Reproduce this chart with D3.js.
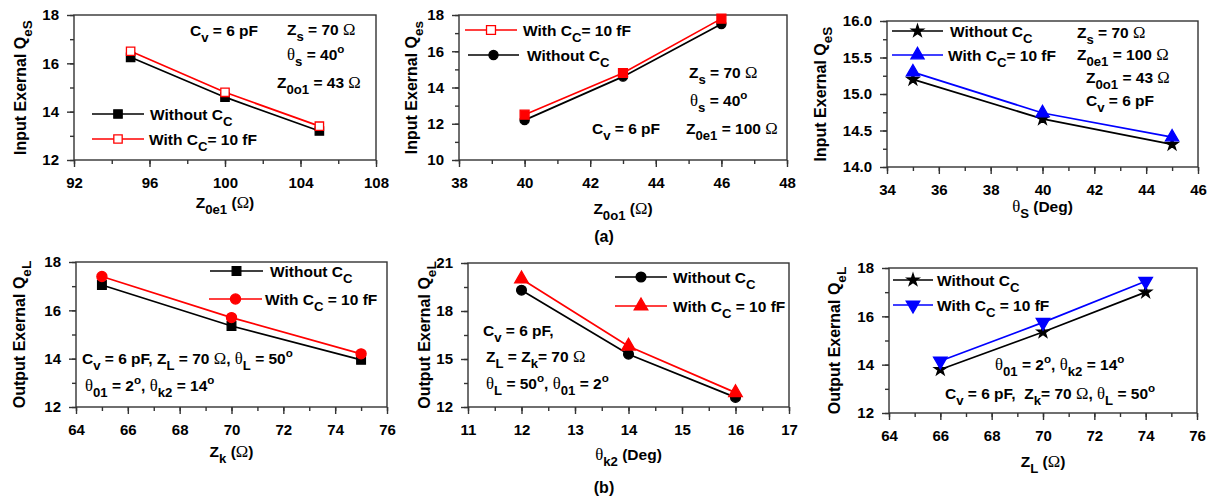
<!DOCTYPE html>
<html>
<head>
<meta charset="utf-8">
<script src="https://cdn.jsdelivr.net/npm/d3@7"></script>
<style>
  body { margin: 0; background: #fff; }
  svg text { font-family: "Liberation Sans", Arial, sans-serif; font-weight: bold; white-space: pre; }
</style>
</head>
<body>
<div id="chart"></div>
<script>
// ---- data ----
const zoe1 = [95, 100, 105];
const qesZoe1Without = [16.25, 14.6, 13.2];
const qesZoe1With = [16.5, 14.8, 13.4];

const zoo1 = [40, 43, 46];
const qesZoo1Without = [12.2, 14.6, 17.5];
const qesZoo1With = [12.5, 14.8, 17.8];

const thetaS = [35, 40, 45];
const qesThetaWithout = [15.2, 14.66, 14.31];
const qesThetaWith = [15.3, 14.74, 14.41];

const zk = [65, 70, 75];
const qelZkWithout = [17.05, 15.35, 13.95];
const qelZkWith = [17.4, 15.7, 14.2];

const thetaK2 = [12, 14, 16];
const qelThetaWithout = [19.3, 15.3, 12.6];
const qelThetaWith = [20.0, 15.8, 12.9];

const zl = [66, 70, 74];
const qelZlWithout = [13.8, 15.35, 17.0];
const qelZlWith = [14.15, 15.75, 17.45];

const W = 1214, H = 502;
const FS = 15;     // tick labels
const TS = 15.5;   // legend / notes / axis titles

const svg = d3.select("#chart").append("svg")
    .attr("width", W).attr("height", H)
    .attr("viewBox", [0, 0, W, H]);

// tiny markup: _{sub}, ^{sup}, θ/Ω drawn in a thin serif like the original
function rich(text, str, size) {
    const re = /_\{([^}]*)\}|\^\{([^}]*)\}|([θΩ])|([^_^θΩ]+)/g;
    let m, cur = 0;
    while ((m = re.exec(str))) {
        let t, shift = 0, fs = size, fw = "bold", ff = null;
        if (m[1] !== undefined) { t = m[1]; shift = size * 0.36; fs = size * 0.85; }
        else if (m[2] !== undefined) { t = m[2]; shift = -size * 0.42; fs = size * 0.75; }
        else if (m[3] !== undefined) { t = m[3]; fw = "normal"; ff = "'Liberation Serif', 'DejaVu Serif', serif"; fs = size * 1.08; }
        else t = m[4];
        const ts = text.append("tspan")
            .attr("dy", shift - cur)
            .style("font-size", fs + "px")
            .style("font-weight", fw)
            .text(t);
        if (ff) ts.style("font-family", ff);
        cur = shift;
    }
    return text;
}

const symbols = {
    square: d3.symbolSquare, circle: d3.symbolCircle,
    triangle: d3.symbolTriangle, down: d3.symbolTriangle, star: d3.symbolStar
};

const panels = [
    {
        x0: 74, x1: 376, y0: 15, y1: 160,
        xDomain: [92, 108], xMajor: 4, xMinor: 2,
        yDomain: [12, 18], yMajor: 2, yMinor: 1, yFmt: "d",
        xs: zoe1,
        series: [
            { vals: qesZoe1Without, color: "#000", sym: "square", size: 70, fill: "#000", legFill: "#000", label: "Without C_{C}" },
            { vals: qesZoe1With, color: "#ff0000", sym: "square", size: 70, fill: "#fff", legFill: "#fff", label: "With C_{C}= 10 fF" }
        ],
        legend: [{ s: 0, lx: 92, rx: 144, y: 114, tx: 150 }, { s: 1, lx: 92, rx: 144, y: 139, tx: 149 }],
        notes: [
            { x: 190, y: 36, t: "C_{v} = 6 pF" },
            { x: 287, y: 35, t: "Z_{s} = 70 Ω" },
            { x: 287, y: 60, t: "θ_{s} = 40^{o}" },
            { x: 277, y: 88, t: "Z_{0o1} = 43 Ω" }
        ],
        xTitle: "Z_{0e1} (Ω)", xTitleDy: 48,
        yTitle: "Input Exernal Q_{eS}", yTitleDx: -48
    },
    {
        x0: 459, x1: 787, y0: 15, y1: 160,
        xDomain: [38, 48], xMajor: 2, xMinor: 1,
        yDomain: [10, 18], yMajor: 2, yMinor: 1, yFmt: "d",
        xs: zoo1,
        series: [
            { vals: qesZoo1Without, color: "#000", sym: "circle", size: 65, fill: "#000", legFill: "#000", label: "Without C_{C}" },
            { vals: qesZoo1With, color: "#ff0000", sym: "square", size: 80, fill: "#ff0000", legFill: "#fff", label: "With C_{C}= 10 fF" }
        ],
        legend: [{ s: 1, lx: 465, rx: 517, y: 30, tx: 523 }, { s: 0, lx: 468, rx: 519, y: 55, tx: 527 }],
        notes: [
            { x: 689, y: 78, t: "Z_{s} = 70 Ω" },
            { x: 690, y: 106, t: "θ_{s} = 40^{o}" },
            { x: 592, y: 134, t: "C_{v} = 6 pF" },
            { x: 686, y: 134, t: "Z_{0e1} = 100 Ω" }
        ],
        xTitle: "Z_{0o1} (Ω)", xTitleDy: 54,
        yTitle: "Input Exernal Q_{es}", yTitleDx: -42
    },
    {
        x0: 887, x1: 1198, y0: 21, y1: 167,
        xDomain: [34, 46], xMajor: 2, xMinor: 1,
        yDomain: [14, 16], yMajor: 0.5, yMinor: 0.25, yFmt: ".1f",
        xs: thetaS,
        series: [
            { vals: qesThetaWithout, color: "#000", sym: "star", size: 45, fill: "#000", legFill: "#000", label: "Without C_{C}" },
            { vals: qesThetaWith, color: "#0000ff", sym: "triangle", size: 75, fill: "#0000ff", legFill: "#0000ff", label: "With C_{C}= 10 fF" }
        ],
        legend: [{ s: 0, lx: 892, rx: 943, y: 31, tx: 950 }, { s: 1, lx: 892, rx: 943, y: 55, tx: 948 }],
        notes: [
            { x: 1077, y: 38, t: "Z_{s} = 70 Ω" },
            { x: 1077, y: 60, t: "Z_{0e1} = 100 Ω" },
            { x: 1086, y: 83, t: "Z_{0o1} = 43 Ω" },
            { x: 1086, y: 106, t: "C_{v} = 6 pF" }
        ],
        xTitle: "θ_{S} (Deg)", xTitleDy: 45,
        yTitle: "Input Exernal Q_{eS}", yTitleDx: -61
    },
    {
        x0: 76, x1: 387, y0: 262, y1: 407,
        xDomain: [64, 76], xMajor: 2, xMinor: 1,
        yDomain: [12, 18], yMajor: 2, yMinor: 1, yFmt: "d",
        xs: zk,
        series: [
            { vals: qelZkWithout, color: "#000", sym: "square", size: 75, fill: "#000", legFill: "#000", label: "Without C_{C}" },
            { vals: qelZkWith, color: "#ff0000", sym: "circle", size: 80, fill: "#ff0000", legFill: "#ff0000", label: "With C_{C} = 10 fF" }
        ],
        legend: [{ s: 0, lx: 210, rx: 263, y: 271, tx: 270 }, { s: 1, lx: 209, rx: 262, y: 299, tx: 265 }],
        notes: [
            { x: 82, y: 364, t: "C_{v} = 6 pF, Z_{L} = 70 Ω, θ_{L} = 50^{o}" },
            { x: 85, y: 391, t: "θ_{01} = 2^{o}, θ_{k2} = 14^{o}" }
        ],
        xTitle: "Z_{k} (Ω)", xTitleDy: 50,
        yTitle: "Output Exernal Q_{eL}", yTitleDx: -51
    },
    {
        x0: 468, x1: 789, y0: 263, y1: 407,
        xDomain: [11, 17], xMajor: 1, xMinor: 0.5,
        yDomain: [12, 21], yMajor: 3, yMinor: 1.5, yFmt: "d",
        xs: thetaK2,
        series: [
            { vals: qelThetaWithout, color: "#000", sym: "circle", size: 75, fill: "#000", legFill: "#000", label: "Without C_{C}" },
            { vals: qelThetaWith, color: "#ff0000", sym: "triangle", size: 80, fill: "#ff0000", legFill: "#ff0000", label: "With C_{C} = 10 fF" }
        ],
        legend: [{ s: 0, lx: 615, rx: 667, y: 277, tx: 673 }, { s: 1, lx: 615, rx: 667, y: 306, tx: 673 }],
        notes: [
            { x: 483, y: 336, t: "C_{v} = 6 pF," },
            { x: 486, y: 362, t: "Z_{L} = Z_{k}= 70 Ω" },
            { x: 486, y: 389, t: "θ_{L} = 50^{o}, θ_{01} = 2^{o}" }
        ],
        xTitle: "θ_{k2} (Deg)", xTitleDy: 53,
        yTitle: "Output Exernal Q_{eL}", yTitleDx: -38
    },
    {
        x0: 889, x1: 1197, y0: 268, y1: 413,
        xDomain: [64, 76], xMajor: 2, xMinor: 1,
        yDomain: [12, 18], yMajor: 2, yMinor: 1, yFmt: "d",
        xs: zl,
        series: [
            { vals: qelZlWithout, color: "#000", sym: "star", size: 45, fill: "#000", legFill: "#000", label: "Without C_{C}" },
            { vals: qelZlWith, color: "#0000ff", sym: "down", size: 80, fill: "#0000ff", legFill: "#0000ff", label: "With C_{C} = 10 fF" }
        ],
        legend: [{ s: 0, lx: 893, rx: 933, y: 280, tx: 937 }, { s: 1, lx: 893, rx: 933, y: 305, tx: 937 }],
        notes: [
            { x: 995, y: 370, t: "θ_{01} = 2^{o}, θ_{k2} = 14^{o}" },
            { x: 945, y: 399, t: "C_{v} = 6 pF,  Z_{k}= 70 Ω, θ_{L} = 50^{o}" }
        ],
        xTitle: "Z_{L} (Ω)", xTitleDy: 54,
        yTitle: "Output Exernal Q_{eL}", yTitleDx: -49
    }
];

function marker(sel, s, x, y, fill) {
    sel.append("path")
        .attr("d", d3.symbol().type(symbols[s.sym]).size(s.size)())
        .attr("transform", `translate(${x},${y})` + (s.sym === "down" ? " rotate(180)" : ""))
        .attr("fill", fill)
        .attr("stroke", s.color)
        .attr("stroke-width", 1.3);
}

panels.forEach(p => {
    const g = svg.append("g");
    const x = d3.scaleLinear().domain(p.xDomain).range([p.x0, p.x1]);
    const y = d3.scaleLinear().domain(p.yDomain).range([p.y1, p.y0]);
    const eps = 1e-9;
    const xMaj = d3.range(p.xDomain[0], p.xDomain[1] + eps, p.xMajor);
    const xMin = d3.range(p.xDomain[0], p.xDomain[1] + eps, p.xMinor);
    const yMaj = d3.range(p.yDomain[0], p.yDomain[1] + eps, p.yMajor);
    const yMin = d3.range(p.yDomain[0], p.yDomain[1] + eps, p.yMinor);

    // frame
    g.append("rect")
        .attr("x", p.x0).attr("y", p.y0)
        .attr("width", p.x1 - p.x0).attr("height", p.y1 - p.y0)
        .attr("fill", "none").attr("stroke", "#333").attr("stroke-width", 1.4);

    const styleAxis = a => {
        a.select(".domain").remove();
        a.selectAll("line").attr("stroke", "#333").attr("stroke-width", 1.4);
        a.selectAll("text").attr("fill", "#000")
            .style("font-size", FS + "px").style("font-weight", "bold")
            .attr("font-family", null);
    };

    g.append("g").attr("transform", `translate(0,${p.y1})`)
        .call(d3.axisBottom(x).tickValues(xMin).tickFormat("").tickSize(4))
        .call(styleAxis);
    g.append("g").attr("transform", `translate(0,${p.y1})`)
        .call(d3.axisBottom(x).tickValues(xMaj).tickFormat(d3.format("d")).tickSize(7).tickPadding(10))
        .call(styleAxis);
    g.append("g").attr("transform", `translate(${p.x0},0)`)
        .call(d3.axisLeft(y).tickValues(yMin).tickFormat("").tickSize(4))
        .call(styleAxis);
    g.append("g").attr("transform", `translate(${p.x0},0)`)
        .call(d3.axisLeft(y).tickValues(yMaj).tickFormat(d3.format(p.yFmt)).tickSize(7).tickPadding(8))
        .call(styleAxis);

    // lines and markers
    const line = d3.line().x((d, i) => x(p.xs[i])).y(d => y(d));
    p.series.forEach(s => {
        g.append("path").datum(s.vals)
            .attr("d", line)
            .attr("fill", "none")
            .attr("stroke", s.color)
            .attr("stroke-width", 1.7);
    });
    p.series.forEach(s => {
        s.vals.forEach((v, i) => marker(g, s, x(p.xs[i]), y(v), s.fill));
    });

    // legend
    p.legend.forEach(l => {
        const s = p.series[l.s];
        g.append("line")
            .attr("x1", l.lx).attr("x2", l.rx).attr("y1", l.y).attr("y2", l.y)
            .attr("stroke", s.color).attr("stroke-width", 1.7);
        marker(g, s, (l.lx + l.rx) / 2, l.y, s.legFill);
        rich(g.append("text").attr("x", l.tx).attr("y", l.y + 6), s.label, TS);
    });

    // annotations
    p.notes.forEach(n => rich(g.append("text").attr("x", n.x).attr("y", n.y), n.t, TS));

    // axis titles
    rich(g.append("text")
        .attr("x", (p.x0 + p.x1) / 2).attr("y", p.y1 + p.xTitleDy)
        .attr("text-anchor", "middle"), p.xTitle, TS);
    const cy = (p.y0 + p.y1) / 2, cx = p.x0 + p.yTitleDx;
    rich(g.append("text")
        .attr("transform", `translate(${cx},${cy}) rotate(-90)`)
        .attr("text-anchor", "middle"), p.yTitle, 16);
});

svg.append("text").attr("x", 604).attr("y", 242).attr("text-anchor", "middle")
    .style("font-size", "16px").text("(a)");
svg.append("text").attr("x", 604).attr("y", 493).attr("text-anchor", "middle")
    .style("font-size", "16px").text("(b)");
</script>
</body>
</html>
